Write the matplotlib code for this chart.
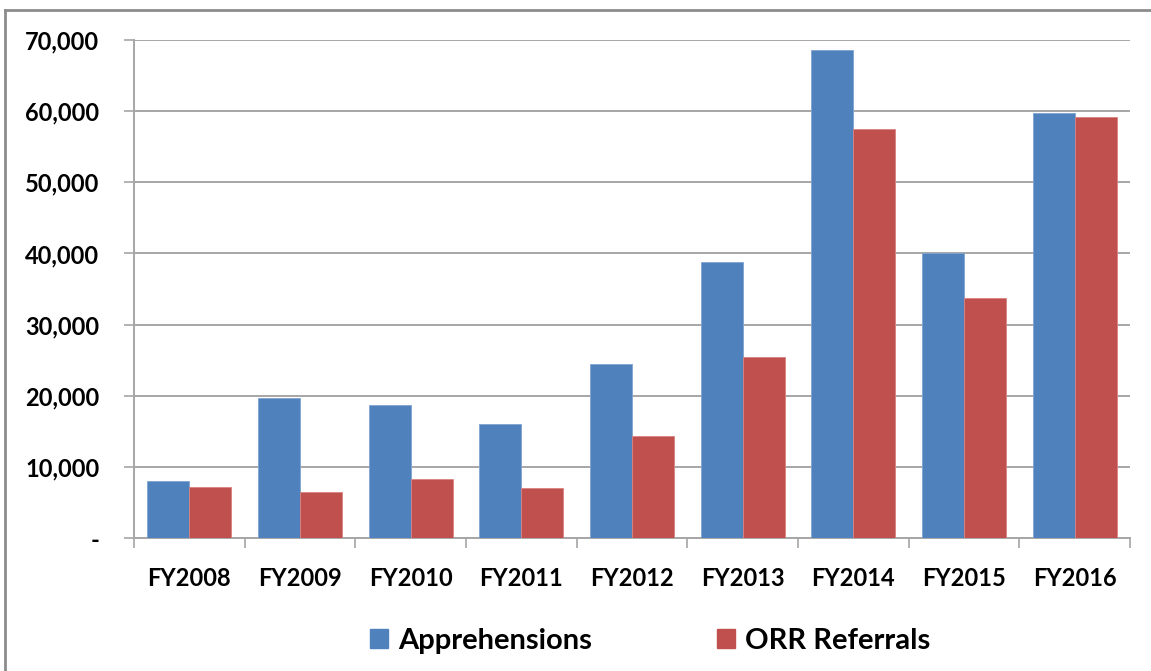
import matplotlib
matplotlib.use("Agg")
import matplotlib.pyplot as plt
from matplotlib.lines import Line2D
from matplotlib.ticker import FuncFormatter
import numpy as np

categories = ["FY2008", "FY2009", "FY2010", "FY2011", "FY2012",
              "FY2013", "FY2014", "FY2015", "FY2016"]
apprehensions = [7970, 19720, 18630, 16060, 24400, 38800, 68590, 40000, 59720]
orr_referrals = [7230, 6520, 8310, 7040, 14300, 25500, 57510, 33800, 59150]
series_names = ["Apprehensions", "ORR Referrals"]
colors = ["#4F81BD", "#C0504D"]
yticks = [0, 10000, 20000, 30000, 40000, 50000, 60000, 70000]

plt.rcParams['font.family'] = ['Lato', 'DejaVu Sans']

W, H = 1151, 671
fig = plt.figure(figsize=(W / 100, H / 100), dpi=100)
ax = fig.add_axes([134 / W, 1 - 538 / H, (1130 - 134) / W, (538 - 40) / H])

x = np.arange(len(categories))
bw = 0.38
ax.bar(x - bw / 2, apprehensions, bw, color=colors[0], edgecolor="#7FA3D1",
       linewidth=0.6, label=series_names[0], zorder=3)
ax.bar(x + bw / 2, orr_referrals, bw, color=colors[1], edgecolor="#D98380",
       linewidth=0.6, label=series_names[1], zorder=3)

ax.set_xlim(-0.5, len(categories) - 0.5)
ax.set_ylim(0, 70000)
ax.set_yticks(yticks)
ax.yaxis.set_major_formatter(FuncFormatter(lambda v, p: "-" if v == 0 else f"{int(v):,}"))
ax.yaxis.grid(True, color="#A6A6A6", linewidth=1.4, zorder=0)
ax.set_axisbelow(True)

ax.set_xticks(x)
ax.set_xticklabels(categories)
ax.set_xticks(np.arange(-0.5, len(categories)), minor=True)
ax.tick_params(axis="x", which="major", length=0, pad=21, labelsize=17)
ax.tick_params(axis="x", which="minor", length=7, width=1.2, color="#A6A6A6", direction="out")
ax.tick_params(axis="y", length=7, width=1.2, color="#A6A6A6", pad=18, labelsize=17)
for lab in ax.get_xticklabels() + ax.get_yticklabels():
    lab.set_fontweight("bold")

for s in ["top", "right"]:
    ax.spines[s].set_visible(False)
for s in ["left", "bottom"]:
    ax.spines[s].set_color("#A6A6A6")
    ax.spines[s].set_linewidth(1.4)

handles = [plt.Rectangle((0, 0), 1, 1, color=c) for c in colors]
fig.legend(handles, series_names, loc="center", bbox_to_anchor=(650 / W, 1 - 641 / H),
           ncol=2, frameon=False, prop={"weight": "bold", "size": 21},
           handlelength=0.6, handleheight=0.6, handletextpad=0.35, columnspacing=4.3)

# outer frame (left and top edges)
fig.add_artist(Line2D([5 / W, 5 / W], [0, 1 - 10 / H], transform=fig.transFigure,
                      color="#8C8C8C", linewidth=2))
fig.add_artist(Line2D([5 / W, 1], [1 - 10 / H, 1 - 10 / H], transform=fig.transFigure,
                      color="#8C8C8C", linewidth=2))

fig.savefig("out.png", dpi=100)
